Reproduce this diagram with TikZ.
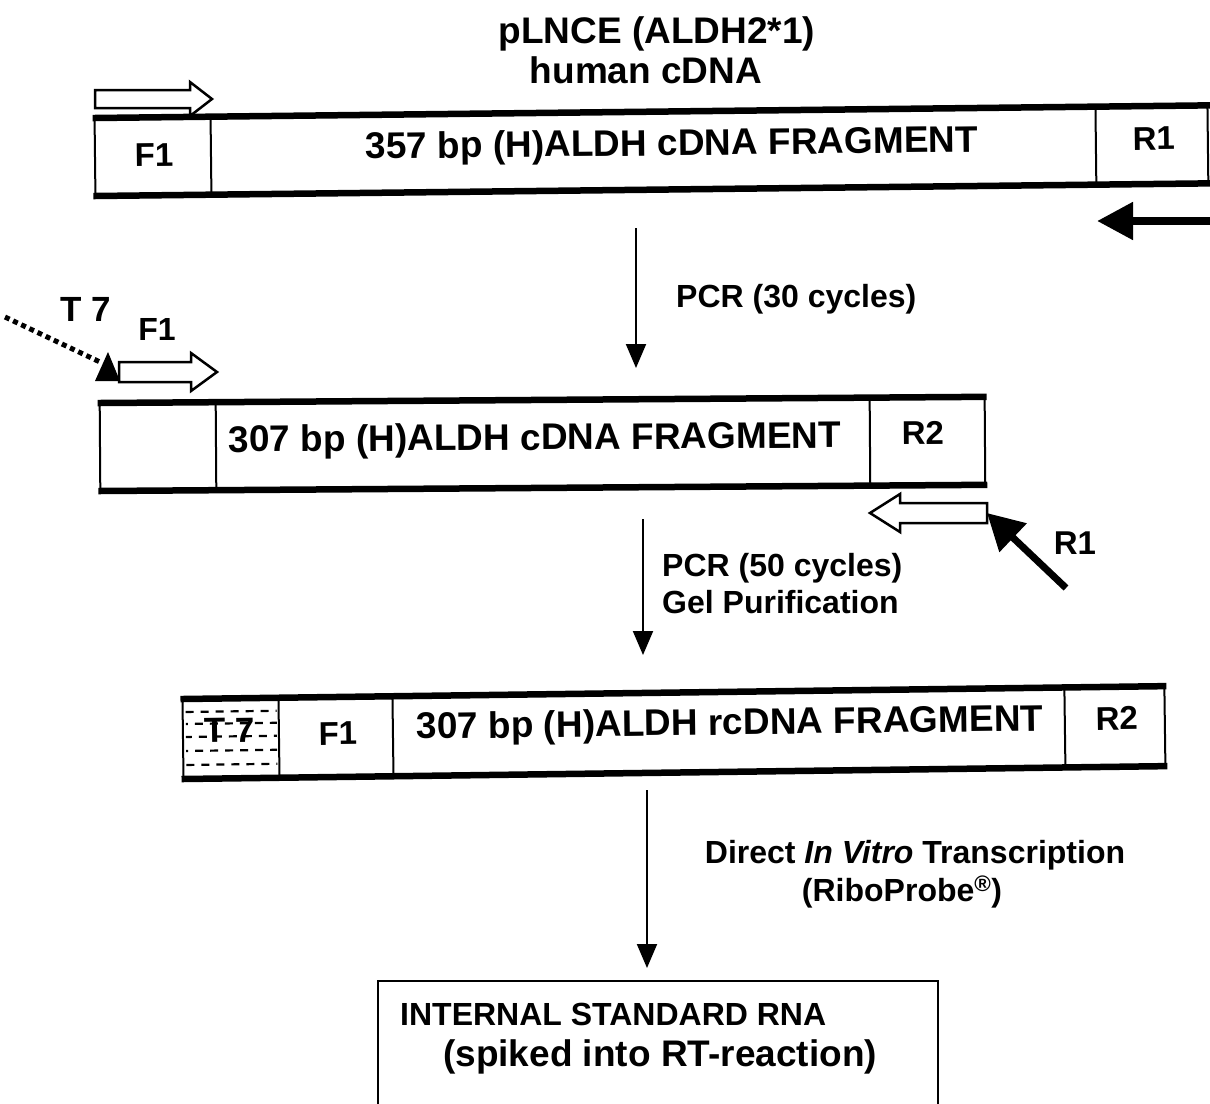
\documentclass[tikz,border=0pt]{standalone}
\usepackage{fontspec}
\setmainfont{Liberation Sans}
\usetikzlibrary{arrows.meta}
\newcommand\myfs[1]{\fontsize{#1}{#1}\selectfont\bfseries}
\begin{document}
\begin{tikzpicture}[x=1pt,y=-1pt,
  barside/.style={line width=2pt},
  barthick/.style={line width=6.5pt},
  divider/.style={line width=2pt},
  bigtxt/.style={inner sep=0pt,anchor=base,font={\myfs{37}}},
  celltxt/.style={inner sep=0pt,anchor=base,font={\myfs{33}}},
  lbl/.style={inner sep=0pt,anchor=base west,font={\myfs{32}}},
  hatch/.style={line width=2.2pt,dash pattern=on 8pt off 7pt},
  openarrow/.style={draw,fill=white,line width=2.5pt,line join=miter},
  flow/.style={line width=2pt,-{Triangle[length=24pt,width=20pt]}},
  bigflow/.style={line width=8pt,-{Triangle[length=36pt,width=36pt]}}
]
\clip (0,0) rectangle (1210,1103);
\fill[white] (0,0) rectangle (1210,1103);

% title
\node[bigtxt] (title1) at (657,43) {pLNCE (ALDH2*1)};
\node[bigtxt] (title2) at (646,83) {human cDNA};

% top open arrow (F1)
\draw[openarrow] (95,90) -- (190,90) -- (190,82) -- (212,99) -- (190,116) -- (190,108) -- (95,108) -- cycle;

% top bar
\begin{scope}[rotate around={0.65:(95,157)},transform shape]
  \draw[barside] (95,118) rectangle (1208,196);
  \draw[divider] (211,118) -- (211,196);
  \draw[divider] (1096,118) -- (1096,196);
  \draw[barthick] (93,118) -- (1220,118);
  \draw[barthick] (93,196) -- (1220,196);
  \node[celltxt] (f1a) at (154,167) {F1};
  \node[bigtxt] (frag1) at (672,162) {357 bp (H)ALDH cDNA FRAGMENT};
  \node[celltxt] (r1a) at (1154,162) {R1};
\end{scope}

% top right filled arrow (R1)
\coordinate (ra0) at (1215,221);
\coordinate (ra1) at (1097,221);
\draw[bigflow] (ra0) -- (ra1);

% arrow 1
\coordinate (a1s) at (636,228);
\coordinate (a1e) at (636,368);
\draw[flow] (a1s) -- (a1e);
\node[lbl] (pcr30) at (676,307) {PCR (30 cycles)};

% T7 primer
\coordinate (t7s) at (5,317);
\coordinate (t7e) at (100,362);
\draw[line width=5pt,dash pattern=on 5pt off 4pt] (t7s) -- (t7e);
\fill (108,352) -- (95,381) -- (120,381) -- cycle;
\node[lbl,anchor=base,font={\myfs{35}}] (t7lbl) at (86,321) {T 7};
\node[lbl,anchor=base] (f1lbl) at (157,340) {F1};
\draw[openarrow] (119,362) -- (191,362) -- (191,353) -- (217,372) -- (191,391) -- (191,382) -- (119,382) -- cycle;

% second bar
\begin{scope}[rotate around={0.4:(100,447)},transform shape]
  \draw[barside] (100,403) rectangle (985,491);
  \draw[divider] (216,403) -- (216,491);
  \draw[divider] (870,403) -- (870,491);
  \draw[barthick] (98,403) -- (987,403);
  \draw[barthick] (98,491) -- (987,491);
  \node[bigtxt] (frag2) at (535,453) {307 bp (H)ALDH cDNA FRAGMENT};
  \node[celltxt] (r2a) at (923,450) {R2};
\end{scope}

% left-pointing open arrow and R1
\draw[openarrow] (987,503) -- (900,503) -- (900,494) -- (870,513) -- (900,532) -- (900,523) -- (987,523) -- cycle;
\coordinate (sa0) at (1066,588);
\coordinate (sa1) at (987,513);
\draw[line width=7pt,-{Triangle[length=36pt,width=38pt]}] (sa0) -- (sa1);
\node[lbl,anchor=base,font={\myfs{33}}] (r1lbl) at (1075,554) {R1};

% arrow 2
\coordinate (a2s) at (643,519);
\coordinate (a2e) at (643,655);
\draw[flow] (a2s) -- (a2e);
\node[lbl] (pcr50) at (662,576) {PCR (50 cycles)};
\node[lbl] (gel) at (662,613) {Gel Purification};

% third bar
\begin{scope}[rotate around={0.75:(183,739)},transform shape]
  \node[celltxt,font={\myfs{35}}] (t7b) at (230,743) {T 7};
  \foreach \yy/\off in {712/0,724/6,737/2,751/6,765/0}{
    \draw[hatch,dash phase=\off pt] (186,\yy) -- (277,\yy);
  }
  \draw[barside] (183,699) rectangle (1165,779);
  \draw[divider] (279,699) -- (279,779);
  \draw[divider] (393,699) -- (393,779);
  \draw[divider] (1065,699) -- (1065,779);
  \draw[barthick] (181,699) -- (1167,699);
  \draw[barthick] (181,779) -- (1167,779);
  \node[celltxt] (f1b) at (338,747) {F1};
  \node[bigtxt] (frag3) at (730,742) {307 bp (H)ALDH rcDNA FRAGMENT};
  \node[celltxt] (r2b) at (1117,742) {R2};
\end{scope}

% arrow 3
\coordinate (a3s) at (647,790);
\coordinate (a3e) at (647,968);
\draw[flow] (a3s) -- (a3e);
\node[lbl,anchor=base] (ivt1) at (915,863) {Direct \textit{In Vitro} Transcription};
\node[lbl,anchor=base] (ivt2) at (902,901) {(RiboProbe\textsuperscript{\textregistered})};

% bottom box
\draw[line width=2pt] (378,1115) -- (378,981) -- (938,981) -- (938,1115);
\node[lbl] (isr1) at (400,1025) {INTERNAL STANDARD RNA};
\node[lbl,font={\myfs{37}}] (isr2) at (443,1066) {(spiked into RT-reaction)};
\end{tikzpicture}
\end{document}
